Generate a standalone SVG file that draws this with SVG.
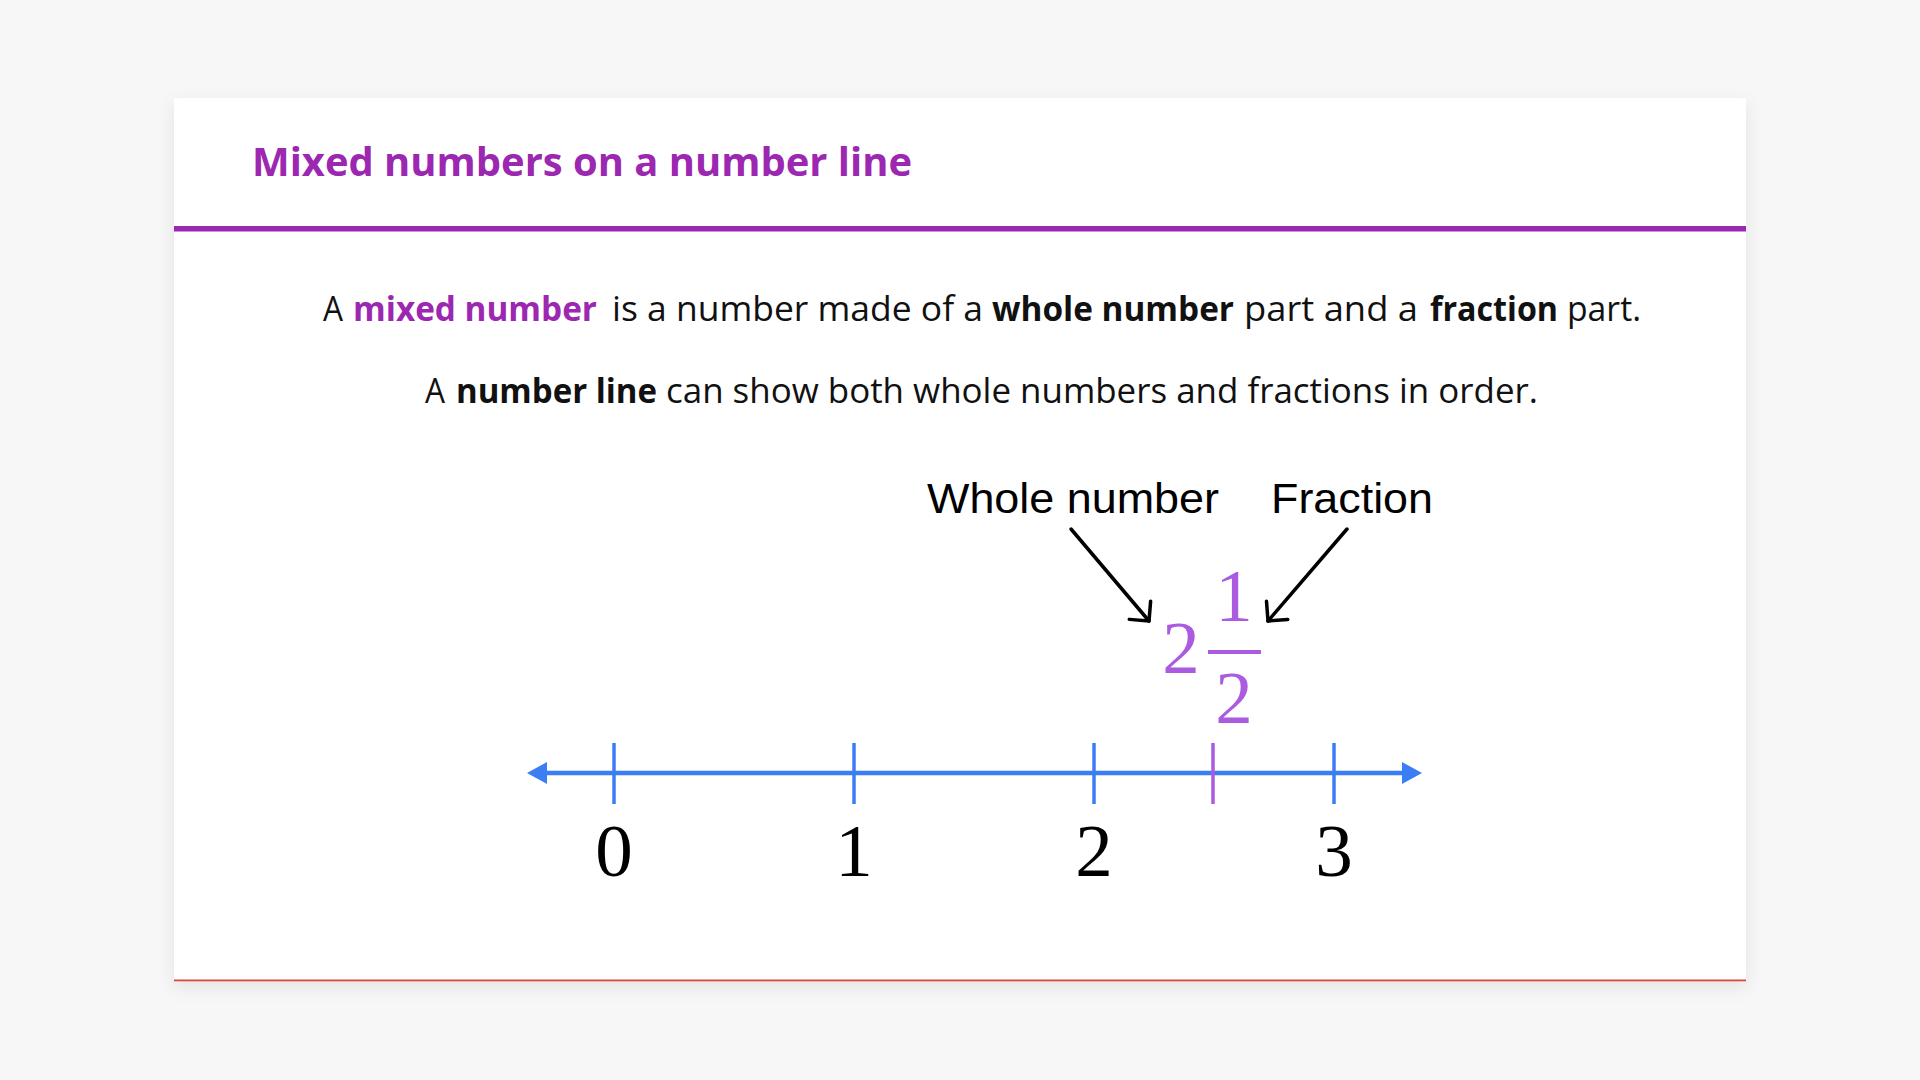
<svg xmlns="http://www.w3.org/2000/svg" width="1920" height="1080" viewBox="0 0 1920 1080">
<defs>
<filter id="shadow" x="-5%" y="-5%" width="110%" height="115%">
<feDropShadow dx="0" dy="6" stdDeviation="9" flood-color="#000" flood-opacity="0.08"/>
</filter>
<marker id="openArrow" viewBox="-20 -18 24 36" markerWidth="24" markerHeight="36" refX="0" refY="0" orient="auto" markerUnits="userSpaceOnUse">
<path d="M-14,-14 L0,0 L-14,14" fill="none" stroke="#000" stroke-width="3.5" stroke-linecap="round" stroke-linejoin="round"/>
</marker>
</defs>
<style>
.body{font-family:"Open Sans","Noto Sans",sans-serif;font-size:34px;fill:#111}
.b{font-weight:700}
.pur{fill:#9C27B0}
.title{font-family:"Open Sans","Noto Sans",sans-serif;font-size:40px;font-weight:700;fill:#9C27B0}
.lbl{font-family:"Liberation Sans",Arial,sans-serif;font-size:42px;fill:#000}
.num{font-family:"Liberation Serif","Times New Roman",serif;font-size:75px;fill:#000;text-anchor:middle}
.frac{font-family:"Liberation Serif","Times New Roman",serif;font-size:75px;fill:#AB5BDF;text-anchor:middle}
.tick{stroke:#3B7EF4;stroke-width:3.5}
</style>
<rect width="1920" height="1080" fill="#F7F7F7"/>
<g id="card">
<rect x="174" y="98" width="1572" height="883" fill="#FFFFFF" filter="url(#shadow)"/>
<rect x="174" y="979.5" width="1572" height="1.8" fill="#E0463A"/>
<rect x="174" y="226" width="1572" height="5.5" fill="#9C27B0"/>
</g>
<g id="title">
<text class="title" x="252" y="176" textLength="660" lengthAdjust="spacingAndGlyphs">Mixed numbers on a number line</text>
</g>
<g id="para1">
<text class="body" y="321"><tspan x="323" textLength="20" lengthAdjust="spacingAndGlyphs">A</tspan><tspan class="b pur" x="353" textLength="244" lengthAdjust="spacingAndGlyphs">mixed number</tspan><tspan x="612" textLength="371" lengthAdjust="spacingAndGlyphs">is a number made of a</tspan><tspan class="b" x="992" textLength="242" lengthAdjust="spacingAndGlyphs">whole number</tspan><tspan x="1244" textLength="174" lengthAdjust="spacingAndGlyphs">part and a</tspan><tspan class="b" x="1430" textLength="128" lengthAdjust="spacingAndGlyphs">fraction</tspan><tspan x="1567" textLength="74" lengthAdjust="spacingAndGlyphs">part.</tspan></text>
</g>
<g id="para2">
<text class="body" y="403"><tspan x="425" textLength="20" lengthAdjust="spacingAndGlyphs">A</tspan><tspan class="b" x="456" textLength="201" lengthAdjust="spacingAndGlyphs">number line</tspan><tspan x="666" textLength="872" lengthAdjust="spacingAndGlyphs">can show both whole numbers and fractions in order.</tspan></text>
</g>
<g id="label-whole">
<text class="lbl" x="927" y="513" textLength="292" lengthAdjust="spacingAndGlyphs">Whole number</text>
</g>
<g id="label-fraction">
<text class="lbl" x="1271" y="513" textLength="162" lengthAdjust="spacingAndGlyphs">Fraction</text>
</g>
<g id="mixed-number">
<text class="frac" x="1181" y="673">2</text>
<text class="frac" x="1234" y="621">1</text>
<rect x="1208" y="650" width="53" height="4" fill="#AB5BDF"/>
<text class="frac" x="1234" y="723">2</text>
</g>
<g id="number-line">
<line x1="540" y1="773" x2="1410" y2="773" stroke="#3B7EF4" stroke-width="4.5"/>
<polygon points="527,773 547,762 547,784" fill="#3B7EF4"/>
<polygon points="1422,773 1402,762 1402,784" fill="#3B7EF4"/>
<line class="tick" x1="614" y1="743" x2="614" y2="804"/>
<line class="tick" x1="854" y1="743" x2="854" y2="804"/>
<line class="tick" x1="1094" y1="743" x2="1094" y2="804"/>
<line x1="1213" y1="743" x2="1213" y2="804" stroke="#AB5BDF" stroke-width="3.5"/>
<line class="tick" x1="1334" y1="743" x2="1334" y2="804"/>
<text class="num" x="614" y="876">0</text>
<text class="num" x="854" y="876">1</text>
<text class="num" x="1094" y="876">2</text>
<text class="num" x="1334" y="876">3</text>
</g>
<g id="connectors">
<line x1="1071" y1="529" x2="1149" y2="621" stroke="#000" stroke-width="3.5" stroke-linecap="round" marker-end="url(#openArrow)"/>
<line x1="1347" y1="529" x2="1268" y2="621" stroke="#000" stroke-width="3.5" stroke-linecap="round" marker-end="url(#openArrow)"/>
</g>
</svg>
